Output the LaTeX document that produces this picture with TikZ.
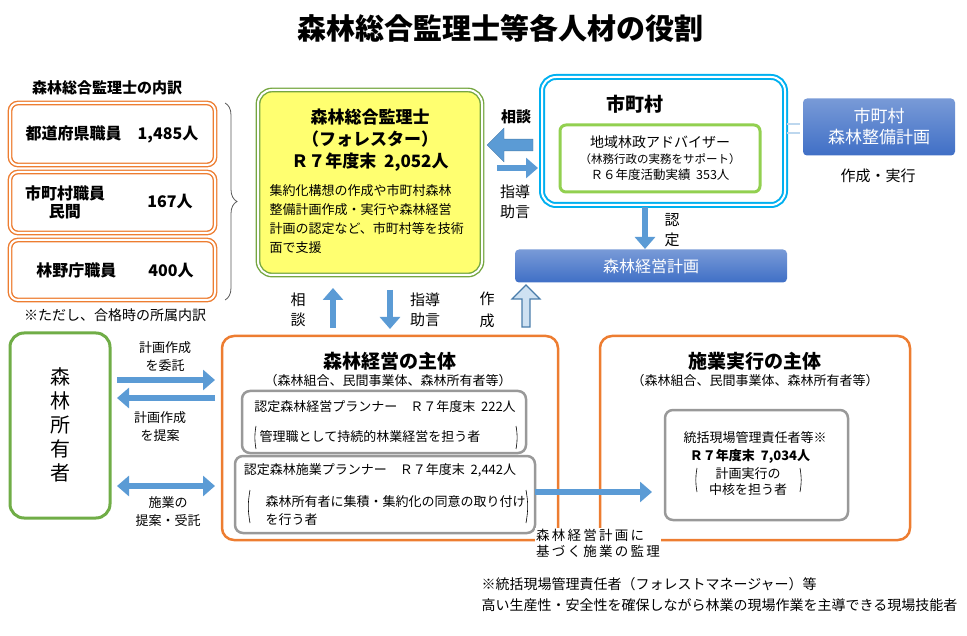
\documentclass[tikz,border=0pt]{standalone}
\usepackage{fontspec}
\setmainfont{Noto Sans CJK JP}
\usetikzlibrary{arrows.meta,shapes.arrows,calc,decorations.pathreplacing}
\definecolor{orng}{HTML}{ED7D31}
\definecolor{grn}{HTML}{70AD47}
\definecolor{lgrn}{HTML}{92D050}
\definecolor{skyb}{HTML}{00B0F0}
\definecolor{arrb}{HTML}{5B9BD5}
\definecolor{barb}{HTML}{3F6FC6}
\definecolor{yel}{HTML}{FFFF70}
\tikzset{
  fs/.style={font=\fontsize{#1}{#1}\selectfont},
  dbl/.style={double=white, double distance=2pt, line width=1.4pt, rounded corners=8pt},
  grayb/.style={draw=gray!80, line width=2.5pt, rounded corners=8pt},
  orgbox/.style={draw=orng, line width=2.5pt, rounded corners=12pt},
  bluebar/.style={rounded corners=4pt, top color=barb!70, bottom color=barb, draw=none},
  arr/.style={draw=arrb, line width=6pt, -{Triangle[length=12pt,width=20pt]}},
  darr/.style={draw=arrb, line width=6pt, {Triangle[length=12pt,width=20pt]}-{Triangle[length=12pt,width=20pt]}},
  lbl/.style={fs=13, align=center},
}
\begin{document}
\begin{tikzpicture}[x=1pt,y=-1pt]
\useasboundingbox (0,0) rectangle (967,636);
% title
\node[font=\bfseries\fontsize{29}{29}\selectfont] (title) at (500,28) {森林総合監理士等各人材の役割};
% breakdown
\node[font=\bfseries\fontsize{15}{15}\selectfont] (brk) at (107,88) {森林総合監理士の内訳};
\draw[dbl, draw=orng] (10,103) rectangle (215,165);
\node[font=\bfseries\fontsize{16}{16}\selectfont] (pref) at (112,134) {都道府県職員\quad 1,485人};
\draw[dbl, draw=orng] (10,172) rectangle (215,233);
\node[font=\bfseries\fontsize{16}{18}\selectfont, align=center] (muni) at (65,202) {市町村職員\\民間};
\node[font=\bfseries\fontsize{16}{16}\selectfont] (munin) at (170,202) {167人};
\draw[dbl, draw=orng] (10,240) rectangle (215,300);
\node[font=\bfseries\fontsize{16}{16}\selectfont] (rinya) at (115,270) {林野庁職員\qquad 400人};
\coordinate (bt) at (225,103);
\coordinate (bb) at (225,300);
\draw[gray!70!black, line width=0.8pt, decorate, decoration={brace, amplitude=12pt}] (bt) -- (bb);
\node[fs=14] (note1) at (115,315) {※ただし、合格時の所属内訳};
% forester box
\draw[dbl, draw=lgrn!80!black, fill=yel, rounded corners=14pt] (258,90) rectangle (482,275);
\node[font=\bfseries\fontsize{17}{22}\selectfont, align=center] (fores) at (370,140) {森林総合監理士\\（フォレスター）\\Ｒ７年度末\ \ 2,052人};
\node[font=\fontsize{13}{19}\selectfont, align=left, anchor=north west] (fdesc) at (266,181) {集約化構想の作成や市町村森林\\整備計画作成・実行や森林経営\\計画の認定など、市町村等を技術\\面で支援};
% municipality
\draw[dbl, draw=skyb, line width=2pt, rounded corners=14pt] (542,77) rectangle (785,205);
\node[font=\bfseries\fontsize{19}{19}\selectfont] (mach) at (635,104) {市町村};
\draw[draw=lgrn, line width=3pt, rounded corners=6pt] (560,125) rectangle (760,192);
\node[align=center, font=\fontsize{14}{16}\selectfont] (adv) at (660,158) {地域林政アドバイザー\\{\fontsize{11.5}{14}\selectfont （林務行政の実務をサポート）}\\{\fontsize{12.5}{14}\selectfont Ｒ６年度活動実績\ \ 353人}};
\node[font=\bfseries\fontsize{15}{15}\selectfont] (sod1) at (516,117) {相談};
\node[single arrow, shape border rotate=180, fill=arrb, draw=arrb!80!black, minimum height=46pt, minimum width=34pt, single arrow head extend=6pt, inner sep=3pt] (bigl) at (513,145) {};
\draw[arr] (497,168) -- (538,168);
\node[lbl, font=\fontsize{15}{20}\selectfont] (shido1) at (515,202) {指導\\助言};
% municipal plan
\draw[draw=arrb!40, line width=1.2pt] (787,124) -- (800,124) (787,133) -- (800,133);
\node[bluebar, minimum width=152pt, minimum height=57pt, text=white, align=center, font=\fontsize{17}{21}\selectfont] (mplan) at (879,127) {市町村\\森林整備計画};
\node[fs=15] (sakusei1) at (878,176) {作成・実行};
% forest management plan
\draw[arr] (645,207) -- (645,249);
\node[lbl, font=\fontsize{15}{20}\selectfont] (nintei) at (672,230) {認\\定};
\node[bluebar, minimum width=272pt, minimum height=33pt, text=white, font=\fontsize{16}{16}\selectfont] (fplan) at (651,266) {森林経営計画};
% between forester and entity
\draw[arr] (333,328) -- (333,288);
\node[lbl, font=\fontsize{15}{20}\selectfont] (sod2) at (298,310) {相\\談};
\draw[arr] (390,290) -- (390,329);
\node[lbl, font=\fontsize{15}{20}\selectfont] (shido2) at (425,310) {指導\\助言};
\node[lbl, font=\fontsize{15}{22}\selectfont] (sakusei2) at (487,310) {作\\成};
\node[single arrow, shape border rotate=90, fill=arrb!30, draw=arrb!80!black, line width=1.2pt, minimum height=42pt, minimum width=26pt, single arrow head extend=10pt] (bigu) at (526,308) {};
% forest owner
\draw[draw=grn, line width=3pt, rounded corners=14pt] (10,333) rectangle (110,518);
\node[font=\fontsize{20}{24}\selectfont, align=center] (owner) at (60,425) {森\\林\\所\\有\\者};
% management entity
\draw[orgbox] (222,336) rectangle (558,540);
\node[font=\bfseries\fontsize{19}{19}\selectfont] (ment) at (390,361) {森林経営の主体};
\node[fs=13] (ments) at (388,381) {（森林組合、民間事業体、森林所有者等）};
\draw[grayb] (242,391) rectangle (526,453);
\node[fs=13] (pl1) at (385,407) {認定森林経営プランナー\quad Ｒ７年度末\ \ 222人};
\node[fs=13] (pl1d) at (370,437) {管理職として持続的林業経営を担う者};
\draw[line width=0.6pt] (256,426) to[bend right=10] (256,449) (516,426) to[bend left=10] (516,449);
\draw[grayb, fill=white] (235,456) rectangle (535,533);
\node[fs=13] (pl2) at (380,470) {認定森林施業プランナー\quad Ｒ７年度末\ \ 2,442人};
\node[font=\fontsize{13}{18}\selectfont, align=left, anchor=west] (pl2d) at (262,511) {森林所有者に集積・集約化の同意の取り付け\\を行う者};
\draw[line width=0.6pt] (250,490) to[bend right=10] (250,523) (526,490) to[bend left=10] (526,523);
% owner arrows
\draw[arr] (117,380) -- (215,380);
\draw[arr] (215,398) -- (117,398);
\draw[darr] (117,486) -- (215,486);
\node[lbl, font=\fontsize{13}{18}\selectfont] (ita) at (165,357) {計画作成\\を委託};
\node[lbl, font=\fontsize{13}{18}\selectfont] (tei) at (160,427) {計画作成\\を提案};
\node[lbl, font=\fontsize{13}{18}\selectfont] (ju) at (168,512) {施業の\\提案・受託};
% operation entity
\draw[orgbox] (600,336) rectangle (910,540);
\node[font=\bfseries\fontsize{19}{19}\selectfont] (oent) at (755,361) {施業実行の主体};
\node[fs=13] (oents) at (755,381) {（森林組合、民間事業体、森林所有者等）};
\draw[grayb] (665,410) rectangle (848,520);
\node[fs=13] (mgr) at (755,438) {統括現場管理責任者等※};
\node[font=\bfseries\fontsize{13}{13}\selectfont] (mgrn) at (750,456) {Ｒ７年度末\ \ 7,034人};
\node[lbl, font=\fontsize{13}{16}\selectfont] (mgrd) at (748,482) {計画実行の\\中核を担う者};
\draw[line width=0.6pt] (697,468) to[bend right=10] (697,492) (800,468) to[bend left=10] (800,492);
\coordinate (ae) at (652,492);
\draw[arr] (535,492) -- (ae);
\node[fill=white, inner sep=1pt, align=left, font=\fontsize{13.5}{16}\selectfont] (kanri) at (598,543) {森\,林\,経\,営\,計\,画\,に\\基\,づ\,く\,施\,業\,の\,監\,理};
% footnote
\node[font=\fontsize{14}{21}\selectfont, align=left, anchor=north west] (note2) at (478,574) {※統括現場管理責任者（フォレストマネージャー）等\\高い生産性・安全性を確保しながら林業の現場作業を主導できる現場技能者};
\end{tikzpicture}
\end{document}
